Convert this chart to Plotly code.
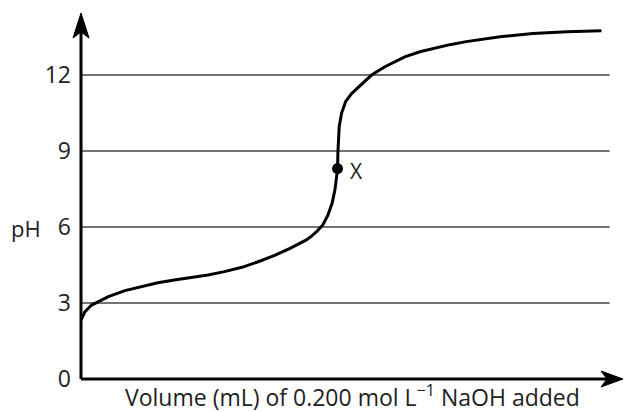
import plotly.graph_objects as go

# Data (volume in mL, pH)
volume_ml = [0, 0.39, 1.04, 1.85, 2.67, 4.29, 5.9, 7.5, 9.1, 10.8, 12.4, 14.0, 15.7, 17.3,
             18.9, 20.4, 21.3, 22.0, 22.5, 23.0, 23.6, 24.1, 24.5, 24.78, 24.95, 25.04,
             25.07, 25.1, 25.2, 25.43, 25.82, 26.41, 27.22, 28.36, 29.66, 31.6, 33.07,
             34.4, 36.0, 37.6, 40.9, 44.1, 47.4, 50.8]
ph_values = [2.33, 2.66, 2.92, 3.07, 3.25, 3.49, 3.66, 3.80, 3.91, 4.0, 4.11, 4.24, 4.41, 4.63,
             4.88, 5.16, 5.33, 5.49, 5.64, 5.82, 6.08, 6.47, 6.93, 7.46, 7.99, 8.31,
             8.9, 9.44, 9.96, 10.49, 10.95, 11.27, 11.59, 12.0, 12.33, 12.72, 12.92,
             13.05, 13.2, 13.32, 13.51, 13.64, 13.71, 13.75]
point_x_volume = [25.04]
point_x_ph = [8.31]
point_label = "X"
ytick_vals = [0, 3, 6, 9, 12]
ytick_text = ["0", "3", "6", "9", "12"]
grid_levels = [3, 6, 9, 12]
x_label = "Volume (mL) of 0.200 mol L<sup>−1</sup> NaOH added"
y_label = "pH"

X_MAX = 52.9
Y_MAX = 14.45
GRID_END = 51.6
FONT = "Open Sans"
TXT = "#222222"

fig = go.Figure()

fig.add_trace(go.Scatter(
    x=volume_ml, y=ph_values, mode="lines",
    line=dict(color="black", width=3, shape="linear"),
    hoverinfo="skip", showlegend=False, cliponaxis=False,
))
fig.add_trace(go.Scatter(
    x=point_x_volume, y=point_x_ph, mode="markers",
    marker=dict(color="black", size=11),
    showlegend=False, cliponaxis=False,
))

shapes = []
for g in grid_levels:
    shapes.append(dict(type="line", xref="x", yref="y", x0=0, x1=GRID_END, y0=g, y1=g,
                       line=dict(color="#444444", width=1.5), layer="below"))
# axis lines (paper-referenced so they are not clipped)
shapes.append(dict(type="line", xref="paper", yref="paper", x0=0, x1=0.985, y0=0, y1=0,
                   line=dict(color="black", width=3)))
shapes.append(dict(type="line", xref="paper", yref="paper", x0=0, x1=0, y0=0, y1=0.96,
                   line=dict(color="black", width=3)))
# arrowheads (pixel-sized paths)
shapes.append(dict(type="path", xref="paper", yref="paper", xsizemode="pixel", ysizemode="pixel",
                   xanchor=0, yanchor=1,
                   path="M0,0 L-8,-25 L0,-19 L8,-25 Z",
                   fillcolor="black", line=dict(color="black", width=1)))
shapes.append(dict(type="path", xref="paper", yref="paper", xsizemode="pixel", ysizemode="pixel",
                   xanchor=1, yanchor=0,
                   path="M0,0 L-22,8 L-16,0 L-22,-8 Z",
                   fillcolor="black", line=dict(color="black", width=1)))

annotations = [
    dict(x=point_x_volume[0], y=point_x_ph[0], xref="x", yref="y", text=point_label,
         showarrow=False, xshift=19, yshift=-2, font=dict(family=FONT, size=21, color=TXT)),
    dict(x=0, y=6, xref="x", yref="y", text=y_label, showarrow=False, xshift=-55, yshift=-1,
         font=dict(family=FONT, size=22, color=TXT)),
    dict(x=0.5, y=0, xref="paper", yref="paper", text=x_label, showarrow=False,
         yanchor="middle", yshift=-17, font=dict(family=FONT, size=23, color=TXT)),
]

fig.update_layout(
    width=624, height=412,
    margin=dict(l=81, r=1, t=13, b=33),
    paper_bgcolor="white", plot_bgcolor="white",
    shapes=shapes, annotations=annotations,
    xaxis=dict(range=[0, X_MAX], showgrid=False, zeroline=False, showline=False,
               showticklabels=False, ticks="", fixedrange=True, automargin=False),
    yaxis=dict(range=[0, Y_MAX], showgrid=False, zeroline=False, showline=False,
               tickvals=ytick_vals, ticktext=ytick_text, ticks="",
               tickfont=dict(family=FONT, size=23, color=TXT), ticklabelstandoff=9,
               fixedrange=True, automargin=False),
)

fig.write_html("out.html", config={"displayModeBar": False, "staticPlot": True},
               post_script="document.body.style.margin='0';document.body.style.overflow='hidden';")
